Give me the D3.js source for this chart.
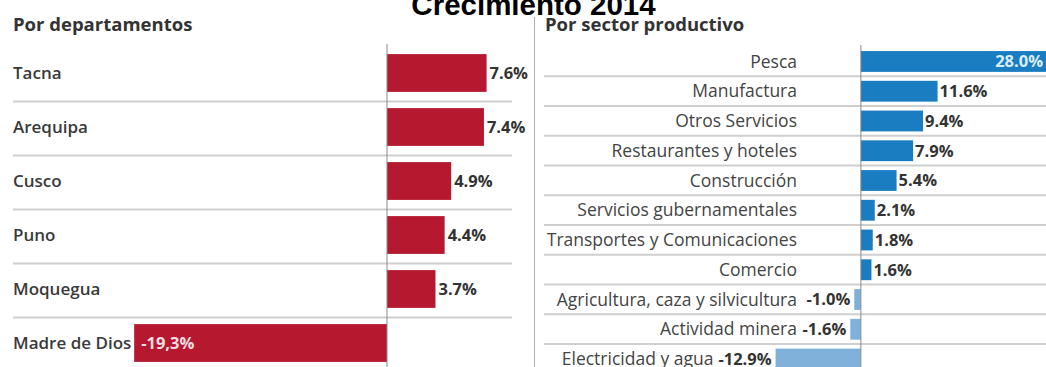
<!DOCTYPE html>
<html>
<head>
<meta charset="utf-8">
<script src="https://cdn.jsdelivr.net/npm/d3@7"></script>
<style>
  html, body { margin: 0; padding: 0; background: #fff; }
  svg { display: block; }
  text { font-family: "Open Sans", sans-serif; }
</style>
</head>
<body>
<svg id="chart" width="1046" height="367"></svg>
<script>
// ---- Data ----
const chartTitle = "Crecimiento 2014";
const deptTitle = "Por departamentos";
const sectorTitle = "Por sector productivo";

const deptCategories = ["Tacna", "Arequipa", "Cusco", "Puno", "Moquegua", "Madre de Dios"];
const deptValues = [7.6, 7.4, 4.9, 4.4, 3.7, -19.3];
const deptLabels = ["7.6%", "7.4%", "4.9%", "4.4%", "3.7%", "-19,3%"];

const sectorCategories = ["Pesca", "Manufactura", "Otros Servicios", "Restaurantes y hoteles",
  "Construcción", "Servicios gubernamentales", "Transportes y Comunicaciones", "Comercio",
  "Agricultura, caza y silvicultura", "Actividad minera", "Electricidad y agua"];
const sectorValues = [28.0, 11.6, 9.4, 7.9, 5.4, 2.1, 1.8, 1.6, -1.0, -1.6, -12.9];
const sectorLabels = ["28.0%", "11.6%", "9.4%", "7.9%", "5.4%", "2.1%", "1.8%", "1.6%", "-1.0%", "-1.6%", "-12.9%"];

// ---- Setup ----
const svg = d3.select("#chart");
const deptData = deptCategories.map((c, i) => ({ cat: c, v: deptValues[i], lab: deptLabels[i] }));
const sectorData = sectorCategories.map((c, i) => ({ cat: c, v: sectorValues[i], lab: sectorLabels[i] }));

const RED = "#b5182f";
const BLUE = "#1a7dc1";
const BLUE_NEG = "#80b1da";
const GRID = "#cfcfcf";

// Panel divider
svg.append("line").attr("x1", 534.5).attr("x2", 534.5).attr("y1", 17).attr("y2", 367)
  .attr("stroke", "#b0b0b0").attr("stroke-width", 1);

// ---- Left panel ----
const xL = d3.scaleLinear().domain([-20, 10]).range([125, 518]);
const yL = d3.scaleBand().domain(deptCategories).range([46, 370]).paddingInner(0.3).paddingOuter(0.15);

svg.append("text").attr("x", 13).attr("y", 30.5).text(deptTitle)
  .attr("font-size", 18.5).attr("font-weight", 700).attr("fill", "#333");

const gL = svg.append("g");
gL.selectAll("line.sep").data(deptData.slice(1)).join("line").attr("class", "sep")
  .attr("x1", 13).attr("x2", 512)
  .attr("y1", d => yL(d.cat) - 6.5).attr("y2", d => yL(d.cat) - 6.5)
  .attr("stroke", GRID).attr("stroke-width", 2);

gL.selectAll("rect").data(deptData).join("rect")
  .attr("x", d => xL(Math.min(0, d.v)))
  .attr("width", d => Math.abs(xL(d.v) - xL(0)))
  .attr("y", d => yL(d.cat)).attr("height", yL.bandwidth())
  .attr("fill", RED);

svg.append("line").attr("x1", xL(0)).attr("x2", xL(0)).attr("y1", 44).attr("y2", 367)
  .attr("stroke", "#8a8a8a").attr("stroke-width", 1);

gL.selectAll("text.cat").data(deptData).join("text").attr("class", "cat")
  .attr("x", 13).attr("y", d => yL(d.cat) + yL.bandwidth() / 2).attr("dy", "0.35em")
  .attr("font-size", 17).attr("font-weight", 600).attr("fill", "#3a3a3a")
  .text(d => d.cat);

gL.selectAll("text.val").data(deptData).join("text").attr("class", "val")
  .attr("x", d => d.v >= 0 ? xL(d.v) + 3 : xL(d.v) + 7)
  .attr("y", d => yL(d.cat) + yL.bandwidth() / 2).attr("dy", "0.35em")
  .attr("font-size", 16.5).attr("font-weight", 700)
  .attr("fill", d => d.v >= 0 ? "#333" : "#f6dde1")
  .text(d => d.lab);

// ---- Right panel ----
const xR = d3.scaleLinear().domain([-15, 28]).range([761.7, 1046]);
const yR = d3.scaleBand().domain(sectorCategories).range([46.6, 373.9]).paddingInner(0.3).paddingOuter(0.15);

svg.append("text").attr("x", 545).attr("y", 30.5).text(sectorTitle)
  .attr("font-size", 18.5).attr("font-weight", 700).attr("fill", "#333");

const gR = svg.append("g");
gR.selectAll("line.sep").data(sectorData.slice(1)).join("line").attr("class", "sep")
  .attr("x1", 544).attr("x2", 1046)
  .attr("y1", d => yR(d.cat) - 4.5).attr("y2", d => yR(d.cat) - 4.5)
  .attr("stroke", GRID).attr("stroke-width", 2);

gR.selectAll("rect").data(sectorData).join("rect")
  .attr("x", d => xR(Math.min(0, d.v)))
  .attr("width", d => Math.abs(xR(d.v) - xR(0)))
  .attr("y", d => yR(d.cat)).attr("height", yR.bandwidth())
  .attr("fill", d => d.v >= 0 ? BLUE : BLUE_NEG);

svg.append("line").attr("x1", xR(0)).attr("x2", xR(0)).attr("y1", 45).attr("y2", 367)
  .attr("stroke", "#8a8a8a").attr("stroke-width", 1);

const LABEL_END = 797;
const vals = gR.selectAll("text.val").data(sectorData).join("text").attr("class", "val")
  .attr("x", d => d.v < 0 ? xR(d.v) - 4 : (xR(d.v) >= 1040 ? xR(d.v) - 3 : xR(d.v) + 2))
  .attr("text-anchor", d => (d.v < 0 || xR(d.v) >= 1040) ? "end" : "start")
  .attr("y", d => yR(d.cat) + yR.bandwidth() / 2).attr("dy", "0.35em")
  .attr("font-size", 16.5).attr("font-weight", 700)
  .attr("fill", d => xR(d.v) >= 1040 ? "#d8eefb" : "#333")
  .text(d => d.lab);

const valWidths = [];
vals.each(function (d, i) { valWidths[i] = this.getComputedTextLength(); });

gR.selectAll("text.cat").data(sectorData).join("text").attr("class", "cat")
  .attr("x", (d, i) => d.v < 0 ? Math.min(LABEL_END, xR(d.v) - 4 - valWidths[i] - 5) : LABEL_END)
  .attr("text-anchor", "end")
  .attr("y", d => yR(d.cat) + yR.bandwidth() / 2).attr("dy", "0.35em")
  .attr("font-size", 17.5).attr("font-weight", 400).attr("fill", "#444")
  .text(d => d.cat);

// ---- Title ----
svg.append("text").attr("x", 533.5).attr("y", 15).attr("text-anchor", "middle")
  .style("font-family", "'Liberation Sans', Arial, sans-serif")
  .attr("font-size", 29.5).attr("font-weight", 700).attr("fill", "#000")
  .text(chartTitle);
</script>
</body>
</html>
